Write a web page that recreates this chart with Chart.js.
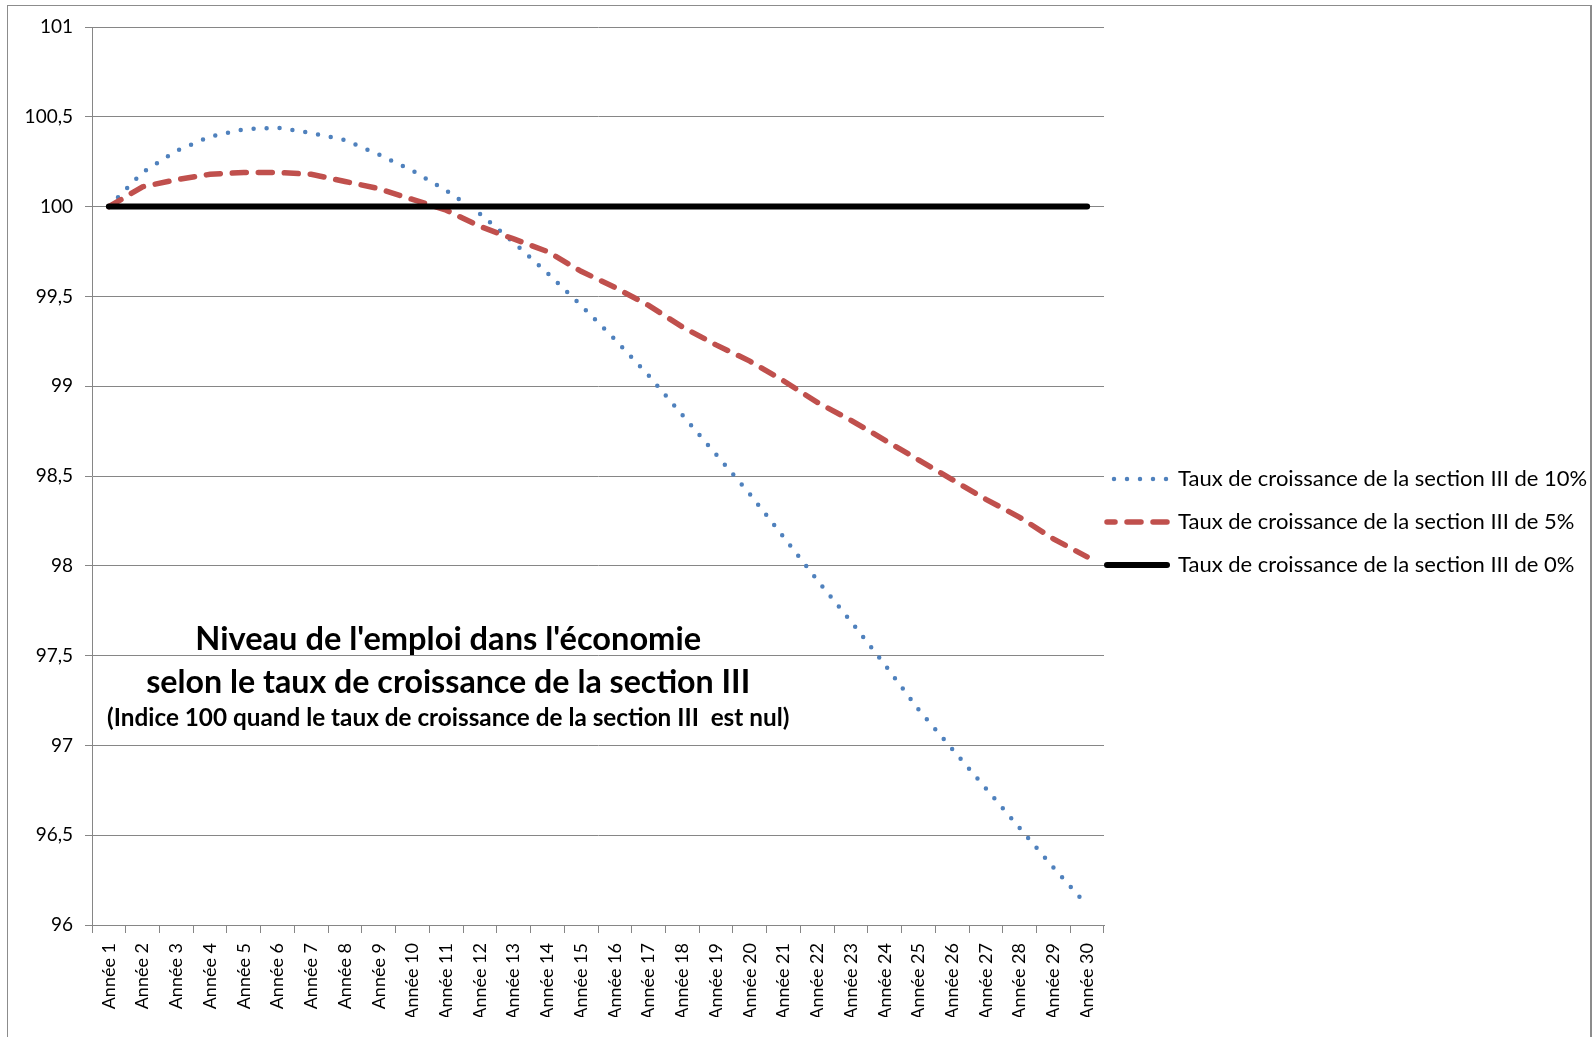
<!DOCTYPE html>
<html lang="fr">
<head>
<meta charset="utf-8">
<title>Niveau de l'emploi dans l'économie</title>
<script src="https://cdn.jsdelivr.net/npm/chart.js@4.4.1/dist/chart.umd.min.js"></script>
<style>
  html, body { margin: 0; padding: 0; background: #fff; overflow: hidden; }
  #wrap { position: relative; width: 1593px; height: 1037px; }
  #myChart { display: block; }
  /* cadre gris autour du graphique */
  #cadre { position: absolute; left: 7px; top: 5px; width: 1585px; height: 1100px;
           border: 1px solid #8c8c8c; border-right-width: 2px; box-sizing: border-box; pointer-events: none; }
</style>
</head>
<body>
<div id="wrap">
  <canvas id="myChart" width="1593" height="1037"></canvas>
  <div id="cadre"></div>
</div>
<script>
// Années (axe X)
const annees = ['Année 1', 'Année 2', 'Année 3', 'Année 4', 'Année 5', 'Année 6', 'Année 7', 'Année 8',
  'Année 9', 'Année 10', 'Année 11', 'Année 12', 'Année 13', 'Année 14', 'Année 15', 'Année 16',
  'Année 17', 'Année 18', 'Année 19', 'Année 20', 'Année 21', 'Année 22', 'Année 23', 'Année 24',
  'Année 25', 'Année 26', 'Année 27', 'Année 28', 'Année 29', 'Année 30'];

// Niveau de l'emploi (indice) selon le taux de croissance de la section III
const taux10 = [100, 100.19, 100.31, 100.39, 100.43, 100.44, 100.41, 100.37, 100.29, 100.20,
  100.09, 99.96, 99.80, 99.63, 99.45, 99.26, 99.06, 98.84, 98.62, 98.40,
  98.16, 97.92, 97.69, 97.45, 97.20, 96.98, 96.76, 96.54, 96.32, 96.11];
const taux5 = [100, 100.11, 100.15, 100.18, 100.19, 100.19, 100.18, 100.14, 100.10, 100.04,
  99.98, 99.89, 99.82, 99.75, 99.64, 99.55, 99.45, 99.33, 99.23, 99.14,
  99.03, 98.91, 98.81, 98.70, 98.59, 98.48, 98.37, 98.27, 98.15, 98.05];
const taux0 = [100, 100, 100, 100, 100, 100, 100, 100, 100, 100,
  100, 100, 100, 100, 100, 100, 100, 100, 100, 100,
  100, 100, 100, 100, 100, 100, 100, 100, 100, 100];

const nomsSeries = [
  'Taux de croissance de la section III de 10%',
  'Taux de croissance de la section III de 5%',
  'Taux de croissance de la section III de 0%'
];

// Graduations de l'axe Y
const yMin = 96;
const yMax = 101;
const yPas = 0.5;

// Titre placé dans la zone du graphique
const titreLignes = [
  "Niveau de l'emploi dans l'économie",
  'selon le taux de croissance de la section III',
  '(Indice 100 quand le taux de croissance de la section III  est nul)'
];

const gris = '#868686';
const police = 'Lato';

// Dessine le titre à l'intérieur du graphique, calé sur les échelles
const titreInterne = {
    id: 'titreInterne',
    afterDatasetsDraw(chart, args, opts) {
        const { ctx, scales: { x, y } } = chart;
        const cx = x.getPixelForValue(opts.indexCentre) + opts.decalageX;
        ctx.save();
        ctx.fillStyle = '#000';
        ctx.textAlign = 'center';
        ctx.textBaseline = 'middle';
        titreLignes.forEach((ligne, i) => {
            // taille de police ajustée pour obtenir la largeur voulue
            ctx.font = 'bold 100px ' + police;
            const taille = 100 * opts.largeurs[i] / ctx.measureText(ligne).width;
            ctx.font = 'bold ' + taille.toFixed(1) + 'px ' + police;
            ctx.fillText(ligne, cx, y.getPixelForValue(opts.niveaux[i]));
        });
        ctx.restore();
    }
};

// Rapproche la légende de la zone du graphique (sans rogner le texte)
const decalageLegende = {
    id: 'decalageLegende',
    afterLayout(chart, args, opts) {
        chart.legend.left += opts.dx;
        chart.legend.right = chart.width;
    }
};

function renderChart() {
    const ctx = document.getElementById('myChart').getContext('2d');
    new Chart(ctx, {
        type: 'line',
        data: {
            labels: annees,
            datasets: [
                {
                    label: nomsSeries[0],
                    data: taux10,
                    borderColor: '#4F81BD',
                    borderWidth: 4.5,
                    borderDash: [0, 13],
                    borderCapStyle: 'round',
                    order: 2
                },
                {
                    label: nomsSeries[1],
                    data: taux5,
                    borderColor: '#C0504D',
                    borderWidth: 5.5,
                    borderDash: [14, 12],
                    borderCapStyle: 'round',
                    order: 1
                },
                {
                    label: nomsSeries[2],
                    data: taux0,
                    borderColor: '#000000',
                    borderWidth: 6,
                    borderCapStyle: 'round',
                    order: 0
                }
            ]
        },
        options: {
            responsive: false,
            animation: false,
            devicePixelRatio: 1,
            layout: { padding: { top: 27, left: 0, right: 0, bottom: 20 } },
            elements: {
                point: { radius: 0, hoverRadius: 0 },
                line: { tension: 0, fill: false }
            },
            plugins: {
                legend: {
                    position: 'right',
                    align: 'center',
                    maxWidth: 489,
                    labels: {
                        usePointStyle: true,
                        pointStyle: 'line',
                        pointStyleWidth: 60,
                        padding: 21,
                        color: '#000',
                        font: { family: police, size: 22 },
                        sort: (a, b) => a.datasetIndex - b.datasetIndex,
                        generateLabels(chart) {
                            const items = Chart.defaults.plugins.legend.labels.generateLabels(chart);
                            items.forEach(item => {
                                const ds = chart.data.datasets[item.datasetIndex];
                                item.strokeStyle = ds.borderColor;
                                item.lineWidth = ds.borderWidth;
                                item.lineDash = ds.borderDash || [];
                                item.lineDashOffset = ds.borderDash ? 6 : 0;
                                item.lineCap = ds.borderCapStyle;
                            });
                            return items;
                        }
                    }
                },
                tooltip: { enabled: false },
                titreInterne: {
                    indexCentre: 10,
                    decalageX: 2,
                    niveaux: [97.59, 97.35, 97.15],
                    largeurs: [506, 605, 682]
                },
                decalageLegende: { dx: -18 }
            },
            scales: {
                x: {
                    type: 'category',
                    offset: true,
                    grid: { drawOnChartArea: false, drawTicks: true, tickLength: 8, color: gris, offset: true },
                    border: { color: gris, width: 1 },
                    ticks: {
                        autoSkip: false,
                        minRotation: 90,
                        maxRotation: 90,
                        padding: 10,
                        color: '#000',
                        font: { family: police, size: 18 }
                    },
                    afterFit(scale) { scale.height = 92; }
                },
                y: {
                    min: yMin,
                    max: yMax,
                    grid: { color: gris, tickLength: 7 },
                    border: { color: gris, width: 1 },
                    ticks: {
                        stepSize: yPas,
                        padding: 12,
                        color: '#000',
                        font: { family: police, size: 19 },
                        callback: value => String(value).replace('.', ',')
                    },
                    afterFit(scale) { scale.width = 92; }
                }
            }
        },
        plugins: [titreInterne, decalageLegende]
    });
}

renderChart();
</script>
</body>
</html>
